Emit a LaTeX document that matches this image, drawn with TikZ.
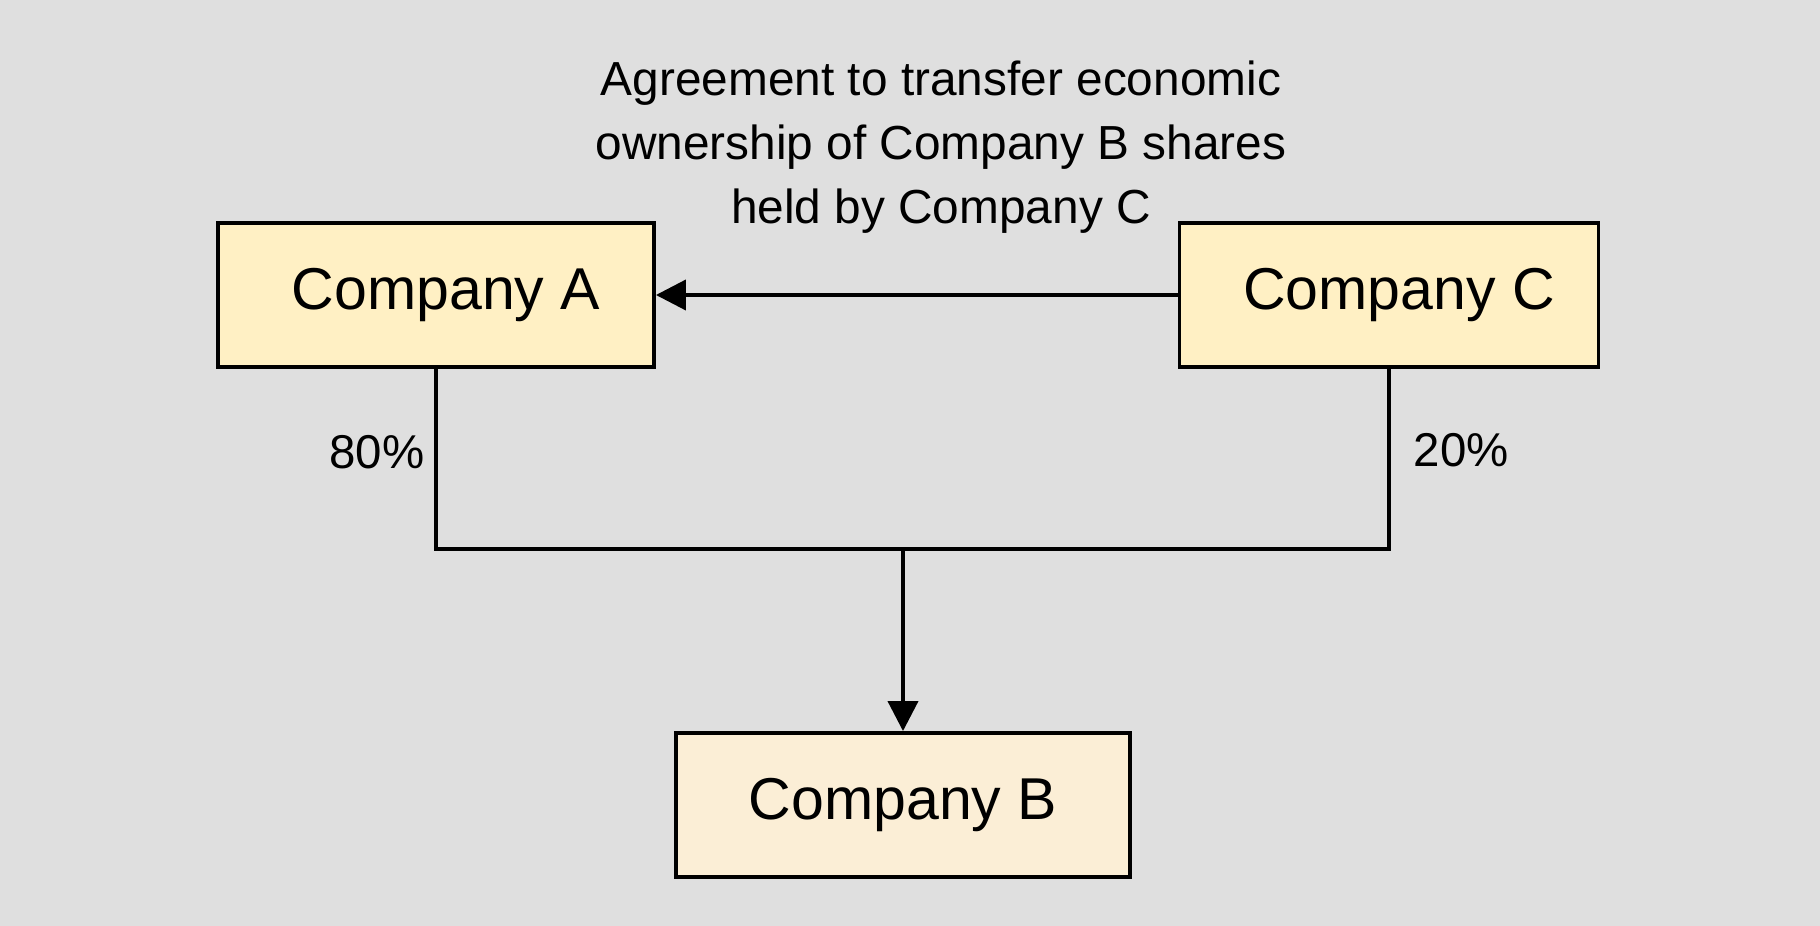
\documentclass[tikz,border=0pt]{standalone}
\usepackage{fontspec}
\setmainfont{Liberation Sans}
\usetikzlibrary{arrows.meta}
\definecolor{bgGrey}{HTML}{DFDFDF}
\definecolor{boxYellow}{HTML}{FFF0C4}
\definecolor{boxCream}{HTML}{FBEED6}
\begin{document}
\begin{tikzpicture}[
        company/.style = {draw, line width = 1.1pt, minimum height = 1.44cm, font = \fontsize{16.8pt}{20pt}\selectfont},
        share/.style = {inner sep = 0pt, font = \fontsize{13.5pt}{16pt}\selectfont},
        link/.style = {line width = 1.1pt},
        tip/.style = {-{Triangle[length = 3mm, width = 3mm]}}
    ]
        \fill[bgGrey] (0, 0) rectangle (18.2, 9.26);
        \useasboundingbox (0, 0) rectangle (18.2, 9.26);
        \node[company, fill = boxYellow, minimum width = 4.36cm] (compA) at (4.36, 6.31) {\hspace{0.2cm}Company A};
        \node[company, fill = boxYellow, minimum width = 4.19cm] (compC) at (13.89, 6.31) {\hspace{0.2cm}Company C};
        \node[company, fill = boxCream, minimum width = 4.54cm] (compB) at (9.03, 1.21) {Company B};
        \node[align = center, font = \fontsize{13.6pt}{18.3pt}\selectfont] (deal) at (9.41, 7.79) {Agreement to transfer economic\\ownership of Company B shares\\held by Company C};
        \coordinate (join) at (9.03, 3.77);
        \draw[link, tip] (compC) -- (compA);
        \draw[link] (compA.south) |- (join) -| (compC.south);
        \draw[link, tip] (join) -- (compB.north);
        \node[share, anchor = east] (shareA) at (4.25, 4.74) {80\%};
        \node[share, anchor = west] (shareC) at (14.13, 4.76) {20\%};
    \end{tikzpicture}
\end{document}
